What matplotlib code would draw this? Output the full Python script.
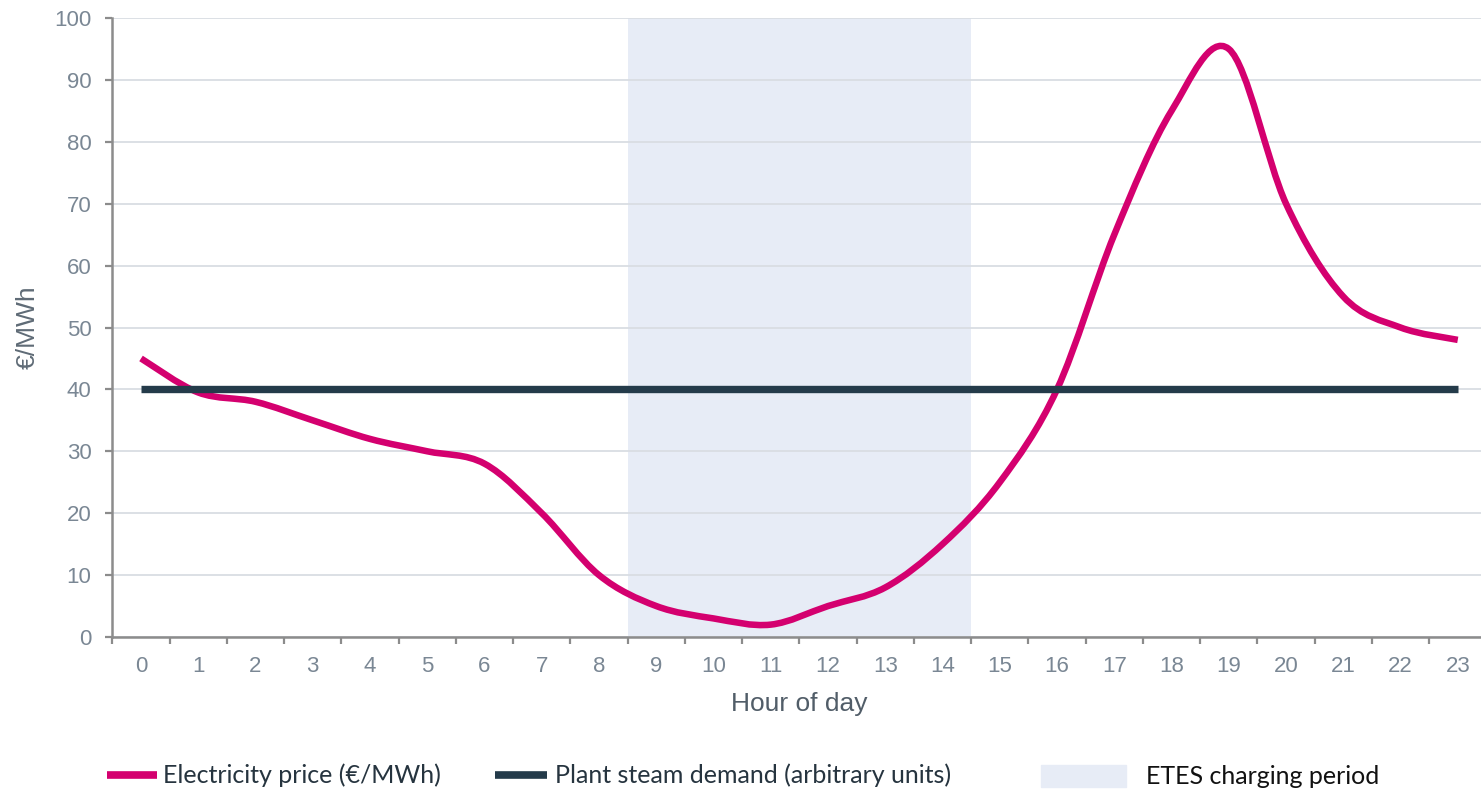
import matplotlib
matplotlib.use("Agg")
import matplotlib.pyplot as plt
import numpy as np
from matplotlib.path import Path
from matplotlib.patches import PathPatch, Rectangle
from matplotlib.lines import Line2D

plt.rcParams["font.family"] = ["Liberation Sans", "DejaVu Sans"]

# Data
hours = list(range(24))
hour_labels = [str(h) for h in hours]
price = [45, 39.5, 38, 35, 32, 30, 28, 20, 10, 5, 3, 2, 5, 8, 15, 25, 40,
         65, 85, 95, 70, 55, 50, 48]
steam_demand = [40] * 24
charging_start, charging_end = 8.5, 14.5

PINK = "#d4006f"
NAVY = "#243b4a"
SHADE = "#e7ecf6"
GRID = "#d9dde3"
AXIS = "#8c8c8c"
TICK_TXT = "#7a8794"

W, H = 1481, 792
fig = plt.figure(figsize=(W / 100, H / 100), dpi=100)
ax = fig.add_axes([112.4 / W, (H - 637) / H, 1374 / W, 619 / H])


def smooth_path(xs, ys):
    # Excel-style smoothed line: cubic Bezier through every point
    pts = np.column_stack([xs, ys]).astype(float)
    n = len(pts)
    verts = [pts[0]]
    codes = [Path.MOVETO]
    for i in range(n - 1):
        p0 = pts[i - 1] if i > 0 else pts[i]
        p3 = pts[i + 2] if i + 2 < n else pts[i + 1]
        c1 = pts[i] + (pts[i + 1] - p0) / 6
        c2 = pts[i + 1] - (p3 - pts[i]) / 6
        verts += [c1, c2, pts[i + 1]]
        codes += [Path.CURVE4] * 3
    return Path(verts, codes)


ax.axvspan(charging_start, charging_end, color=SHADE, zorder=0.2, lw=0)

price_line = PathPatch(smooth_path(hours, price), fill=False, edgecolor=PINK,
                       lw=4.7, capstyle="butt", joinstyle="round", zorder=3)
ax.add_patch(price_line)
ax.plot(hours, steam_demand, color=NAVY, lw=5.3, solid_capstyle="butt", zorder=4)

ax.set_xlim(-0.5, 23.5)
ax.set_ylim(0, 100)

# axes styling
for side in ["top", "right"]:
    ax.spines[side].set_visible(False)
for side in ["left", "bottom"]:
    ax.spines[side].set_color(AXIS)
    ax.spines[side].set_linewidth(1.8)

ax.set_yticks(range(0, 101, 10))
ax.yaxis.grid(True, color=GRID, lw=1.3)
ax.set_axisbelow(True)
ax.tick_params(axis="y", direction="out", length=5, width=1.6, color=AXIS,
               labelsize=16, labelcolor=TICK_TXT, pad=10)

ax.set_xticks(np.arange(-0.5, 24, 1))
ax.set_xticklabels([])
ax.set_xticks(hours, minor=True)
ax.set_xticklabels(hour_labels, minor=True)
ax.tick_params(axis="x", which="major", direction="out", length=5, width=1.6,
               color=AXIS)
ax.tick_params(axis="x", which="minor", length=0, labelsize=16,
               labelcolor=TICK_TXT, pad=14)

ax.set_ylabel("€/MWh", fontsize=19, color="#5f6b76")
ax.yaxis.set_label_coords((28 - 112.4) / 1374, 0.5)
ax.yaxis.label.set_va("center")
ax.set_xlabel("Hour of day", fontsize=19, color="#515d68")
ax.xaxis.set_label_coords(0.5, (637 - 704) / 619)
ax.xaxis.label.set_va("center")


# legend drawn along the bottom
def fx(px):
    return px / W


def fy(py):
    return 1 - py / H


leg_y = 775
fig.add_artist(Line2D([fx(107), fx(157)], [fy(leg_y), fy(leg_y)], color=PINK,
                      lw=5.5, solid_capstyle="butt", transform=fig.transFigure))
fig.text(fx(163), fy(leg_y), "Electricity price (€/MWh)", fontsize=18,
         family="Lato", color="#26343f", va="center")
fig.add_artist(Line2D([fx(495), fx(547)], [fy(leg_y), fy(leg_y)], color=NAVY,
                      lw=5.5, solid_capstyle="butt", transform=fig.transFigure))
fig.text(fx(555), fy(leg_y), "Plant steam demand (arbitrary units)", fontsize=18,
         family="Lato", color="#26343f", va="center")
fig.add_artist(Rectangle((fx(1041), fy(787)), fx(85), 22 / H, color=SHADE,
                         transform=fig.transFigure))
fig.text(fx(1146), fy(777), "ETES charging period", fontsize=18,
         family="Lato", color="#111111", va="center")

fig.savefig("out.png", dpi=100)
